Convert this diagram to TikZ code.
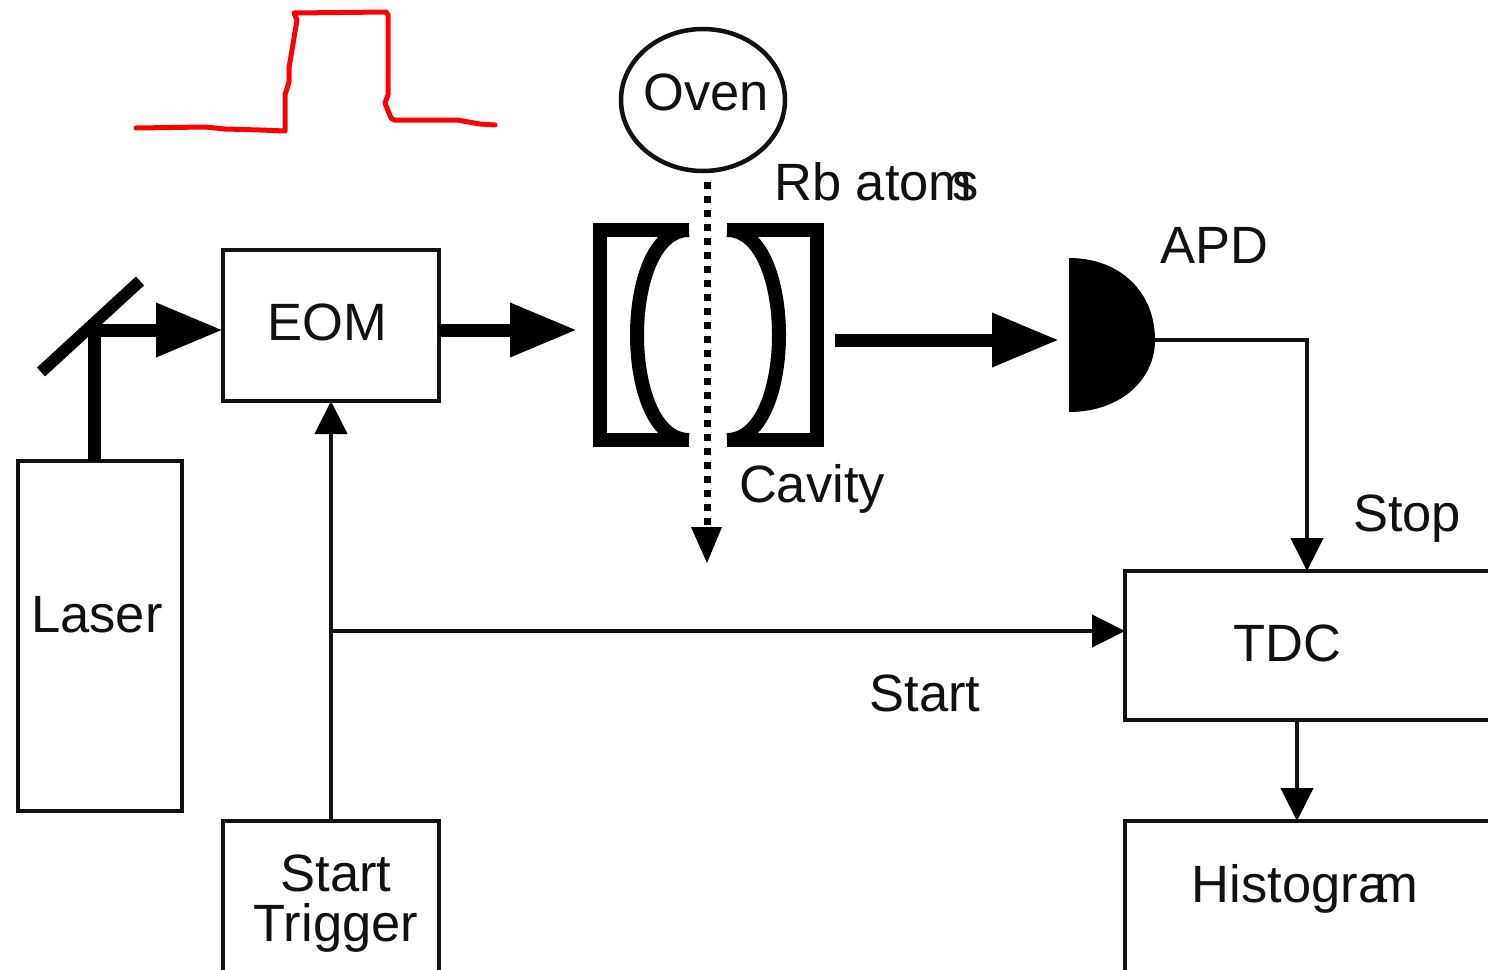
\documentclass[tikz,border=0pt]{standalone}
\usepackage{fontspec}
\setmainfont{Liberation Sans}
\usetikzlibrary{arrows.meta,shapes.geometric}
\definecolor{ink}{HTML}{111111}
\tikzset{
  box/.style={draw=ink,line width=4.5pt,rectangle,inner sep=0pt,outer sep=0pt,anchor=north west},
  lbl/.style={inner sep=0pt,text=ink,font=\fontsize{52.5}{52.5}\selectfont},
  beam/.style={draw=black,line width=13pt},
  wire/.style={draw=ink,line width=4.5pt},
  bigtip/.style={-{Triangle[length=67pt,width=51pt,black]}},
  smalltip/.style={-{Triangle[length=33pt,width=32pt,black]}},
  mirror/.style={draw=black,line width=14pt,line join=miter},
  pulse/.style={draw=red,line width=5pt,line cap=round,line join=round}
}
\begin{document}
\begin{tikzpicture}[x=1pt,y=-1pt]
\useasboundingbox (0,0) rectangle (1488,969);
\fill[white] (0,0) rectangle (1488,969);
\clip (0,0) rectangle (1488,969);
% boxes
\node[box,minimum width=164pt,minimum height=350pt] (laser) at (18,461) {};
\node[box,minimum width=216pt,minimum height=151pt] (eom) at (223,250) {};
\node[box,minimum width=216pt,minimum height=170pt] (trigger) at (223,821) {};
\node[box,minimum width=400pt,minimum height=149pt] (tdc) at (1125,571) {};
\node[box,minimum width=400pt,minimum height=170pt] (hist) at (1125,821) {};
\node[draw=ink,line width=4.5pt,ellipse,inner sep=0pt,outer sep=0pt,minimum width=164pt,minimum height=142pt] (oven) at (703,100) {};
% labels
\node[lbl] (tOven) at (706,92) {Oven};
\node[lbl,anchor=west] (tRb) at (774,182) {Rb atom\kern-20pt s};
\node[lbl,anchor=west] (tApd) at (1160,245) {APD};
\node[lbl] (tEom) at (327,322) {EOM};
\node[lbl] (tLaser) at (97,615) {Laser};
\node[lbl] (tCav) at (812,489) {Cavity};
\node[lbl] (tStop) at (1407,519) {Stop};
\node[lbl] (tTdc) at (1287,643) {TDC};
\node[lbl] (tStart) at (925,693) {Start};
\node[lbl] (tS1) at (336,873) {Start};
\node[lbl] (tS2) at (336,928) {Trigger};
\node[lbl] (tHist) at (1305,889) {Histogra\kern-13pt m};
% mirror and beams
\coordinate (mA) at (41,372);
\coordinate (mB) at (140,281);
\coordinate (turn) at (94,330);
\draw[draw=black,line width=12pt] (mA) -- (mB);
\draw[beam] (laser.north -| turn) -- ([yshift=-6pt]turn);
\draw[beam,bigtip] ([xshift=-6pt]turn) -- (eom.west |- turn);
\coordinate (cavL) at (577,330);
\draw[beam,bigtip] (eom.east |- cavL) -- (cavL);
% cavity
\coordinate (cavTL) at (689,230);
\coordinate (cavBL) at (689,440);
\coordinate (cavTR) at (727,230);
\coordinate (cavBR) at (727,440);
\draw[mirror] (cavTL) -- (600,230) -- (600,440) -- (cavBL);
\draw[mirror] (cavTR) -- (817,230) -- (817,440) -- (cavBR);
\draw[draw=black,line width=14pt] (cavTL) .. controls (653,230) and (637,285) .. (637,335) .. controls (637,385) and (653,440) .. (cavBL);
\draw[draw=black,line width=14pt] (cavTR) .. controls (763,230) and (779,285) .. (779,335) .. controls (779,385) and (763,440) .. (cavBR);
% atoms
\coordinate (atomA) at (707,182);
\coordinate (atomB) at (707,530);
\coordinate (atomC) at (707,563);
\draw[draw=black,line width=7pt,dash pattern=on 7pt off 7pt] (atomA) -- (atomB);
\draw[draw=none,fill=black] (691,527) -- (722,527) -- (atomC) -- cycle;
% APD
\coordinate (cavOut) at (835,340);
\coordinate (apdIn) at (1059,340);
\coordinate (apdOut) at (1155,340);
\draw[beam,bigtip] (cavOut) -- (apdIn);
\fill[black] (1069,258) .. controls (1120,258) and (1155,292) .. (apdOut) .. controls (1155,380) and (1120,412) .. (1069,412) -- cycle;
% wires
\coordinate (stopX) at (1307,340);
\draw[wire,smalltip] (apdOut) -- (stopX) -- (stopX |- tdc.north);
\coordinate (trigX) at (331,631);
\draw[wire,smalltip] (trigger.north -| trigX) -- (eom.south -| trigX);
\draw[wire,smalltip] (trigX) -- (tdc.west |- trigX);
\coordinate (histX) at (1297,720);
\draw[wire,smalltip] (histX) -- (hist.north -| histX);
% red pulse
\draw[pulse] (136,128) -- (205,127) -- (225,129) -- (260,130) -- (285,131) -- (285,95) -- (289,82) -- (289,68) -- (297,20) -- (294,13) -- (386,12) -- (388,15) -- (388,95) -- (385,103) -- (391,118) -- (394,120) -- (457,120) -- (480,124) -- (495,125);
\end{tikzpicture}
\end{document}
